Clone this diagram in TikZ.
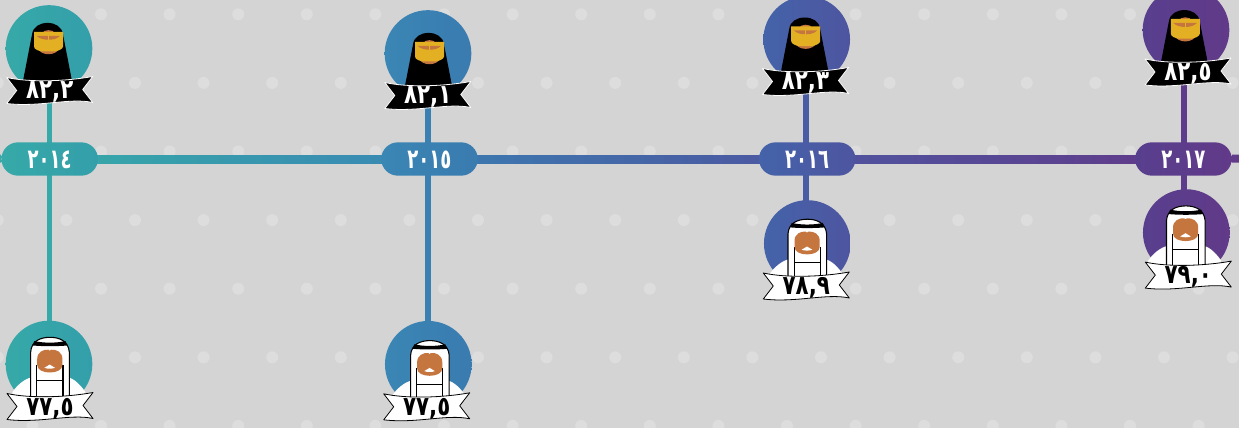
\documentclass[tikz,border=0pt]{standalone}
\usepackage{fontspec}
\newfontfamily\tagfont[Script=Arabic,FakeStretch=0.8]{DejaVu Sans}
\newfontfamily\yearfont[Script=Arabic,FakeStretch=0.66]{DejaVu Sans}
\usetikzlibrary{calc}
\pgfdeclarelayer{bg}
\pgfsetlayers{bg,main}
\definecolor{paper}{HTML}{D4D4D4}
\definecolor{spot}{HTML}{DDDDDD}
\definecolor{tealA}{HTML}{36A9A8}
\definecolor{tealB}{HTML}{349FAA}
\definecolor{blueA}{HTML}{3A86B4}
\definecolor{blueB}{HTML}{3A7BB0}
\definecolor{indA}{HTML}{4463A9}
\definecolor{indB}{HTML}{4E55A0}
\definecolor{purA}{HTML}{583F8E}
\definecolor{purB}{HTML}{613A89}
\definecolor{skin}{HTML}{C5763F}
\definecolor{veil}{HTML}{E3B023}
\tikzset{
  x=0.75pt,y=-0.75pt,
  disc/.style={circle,minimum size=65pt,inner sep=0pt},
  yearpill/.style={rectangle,rounded corners=12.5pt,minimum width=72.4pt,minimum height=25pt,inner sep=0pt,
    text=white,text height=13.5pt,text depth=0pt,font=\yearfont\bfseries\fontsize{20.5}{22}\selectfont},
  tagtext/.style={inner sep=0pt,text height=12.75pt,text depth=0pt,font=\tagfont\bfseries\fontsize{20}{22}\selectfont},
  rail/.style={line width=6pt},
  stem/.style={line width=4.4pt},
  ribbonblack/.style={fill=black,draw=white,line width=0.6pt,line join=round},
  ribbonwhite/.style={fill=white,draw=black,line width=0.6pt,line join=round},
  ribbon/.pic={
    \path[pic actions] (-43,-13) .. controls (-20,-8) and (15,-9) .. (43,-14)
      -- (33,-1) -- (43,12) .. controls (20,7) and (-10,17) .. (-43,13) -- (-33,0) -- cycle;
  }
}
% #1 name, #2 x, #3 y, #4 figure shift, #5 left colour, #6 right colour, #7 text, #8 ribbon dx
\newcommand{\womanfig}[8]{
  \node[disc,left color=#5,right color=#6] (c#1) at (#2,#3) {};
  \begin{scope}[shift={(#2,#3)}]
    \begin{scope}[shift={(#4)}]
      \fill[black] (-24.5,40) -- (-15,-9) .. controls (-14,-17) and (-7,-20.6) .. (0.5,-20.6)
        .. controls (8,-20.6) and (15,-17) .. (16,-9) -- (25.5,40) -- cycle;
      \fill[skin] (-5,-10) .. controls (-4,-14.5) and (7,-14.5) .. (8,-10) -- cycle;
      \fill[skin] (-10,4) .. controls (-6,13) and (9,13) .. (13,4) -- cycle;
      \fill[veil] (-13,-11.7) -- (16,-11.7) -- (16,3) .. controls (16,6) and (10,7.5) .. (8,8)
        -- (-5,8) .. controls (-8,7.5) and (-13,6) .. (-13,3) -- cycle;
      \fill[skin] (-10.5,-7.7) -- (13,-7.7) .. controls (10,-4.5) and (6,-3.8) .. (1.5,-3.8)
        .. controls (-3,-3.8) and (-7,-4.5) .. (-10.5,-7.7) -- cycle;
      \draw[veil,line width=0.5pt] (1.5,-8) -- (1.5,-3.5);
    \end{scope}
    \pic[ribbonblack] at (#8,42) {ribbon};
    \node[tagtext,text=white] (t#1) at (#8,41.5) {#7};
  \end{scope}
}
\newcommand{\manfig}[8]{
  \node[disc,left color=#5,right color=#6] (c#1) at (#2,#3) {};
  \begin{scope}[shift={(#2,#3)}]
    \begin{scope}[shift={(#4)}]
      \fill[white] (-36,36) -- (-36,31) .. controls (-29,21) and (-20,16) .. (-14,16) -- (17,16)
        .. controls (23,16) and (30,21) .. (37,31) -- (37,36) -- cycle;
      \filldraw[fill=white,draw=black,line width=0.8pt] (-17.7,36) -- (-17.7,-9) .. controls (-17,-20) and (-8,-23.7) .. (1.7,-23.7)
        .. controls (11,-23.7) and (20,-20) .. (20.9,-9) -- (20.9,36) -- cycle;
      \fill[black] (-15.5,-15.5) -- (-14,-20) .. controls (-5,-17.8) and (8,-17.8) .. (17,-20) -- (19,-15.5)
        .. controls (8,-14.6) and (-5,-14.6) .. (-15.5,-15.5) -- cycle;
      \draw[black,line width=0.8pt] (-11.6,36) -- (-11.6,4);
      \draw[black,line width=0.8pt] (14.6,36) -- (14.6,4);
      \draw[black,line width=0.6pt] (-11.6,19.7) -- (14.6,19.7);
      \fill[skin] (-11.2,-2) .. controls (-11.2,-9) and (-5,-11.8) .. (0,-11.3) -- (1.3,-10.2) -- (2.6,-11.3)
        .. controls (8,-11.8) and (14,-9) .. (14,-2) -- (14,4)
        .. controls (14,9) and (8,11.5) .. (1.3,11.5) .. controls (-5,11.5) and (-11.2,9) .. (-11.2,4) -- cycle;
      \fill[white] (-4,6.8) .. controls (-2,6.4) and (-1,4.2) .. (1.3,3.6) .. controls (3.6,4.2) and (4.6,6.4) .. (6.6,6.8)
        .. controls (3.6,8) and (-1,8) .. (-4,6.8) -- cycle;
    \end{scope}
    \pic[ribbonwhite] at (#8,42.5) {ribbon};
    \node[tagtext,text=black] (t#1) at (#8,42.6) {#7};
  \end{scope}
}
\begin{document}
\begin{tikzpicture}
\useasboundingbox (0,0) rectangle (1239,428);
% year pills
\node[yearpill,left color=tealA,right color=tealB] (y14) at (49.7,159) {٢٠١٤};
\node[yearpill,left color=blueA,right color=blueB] (y15) at (429.5,159) {٢٠١٥};
\node[yearpill,left color=indA,right color=indB] (y16) at (807.2,159) {٢٠١٦};
\node[yearpill,left color=purA,right color=purB] (y17) at (1183.4,159) {٢٠١٧};
% people
\womanfig{w14}{49}{48.5}{-2,-5}{tealA}{tealB}{٨٢,٢}{0.7}
\womanfig{w15}{428}{53.5}{0,0}{blueA}{blueB}{٨٢,١}{-0.2}
\womanfig{w16}{806.7}{39.5}{-2.5,-1.4}{indA}{indB}{٨٢,٣}{-1.2}
\womanfig{w17}{1186}{30}{-2.2,0.7}{purA}{purB}{٨٢,٥}{2}
\manfig{m14}{49}{364}{-0.6,-3}{tealA}{tealB}{٧٧,٥}{1}
\manfig{m15}{428.3}{364.3}{0,0}{blueA}{blueB}{٧٧,٥}{-1.6}
\manfig{m16}{807.3}{243.5}{-1.6,-0.6}{indA}{indB}{٧٨,٩}{-1}
\manfig{m17}{1186.3}{232.6}{-2.1,-3}{purA}{purB}{٧٩,٠}{2}
% stems' x positions and free ends of the rail
\coordinate (v14) at (49.5,159);
\coordinate (v15) at (427.6,159);
\coordinate (v16) at (806,159);
\coordinate (v17) at (1184,159);
\coordinate (railL) at (0,158.7);
\coordinate (railR) at (1239,158.7);
\begin{pgfonlayer}{bg}
  \fill[paper] (0,0) rectangle (1239,428);
  \begin{scope}
    \clip (0,0) rectangle (1239,428);
    \foreach \k in {0,...,6}{
      \pgfmathsetmacro{\yy}{14.3+68.6*\k}
      \pgfmathsetmacro{\xo}{mod(\k,2)==0 ? 32.4 : -2.2}
      \foreach \n in {0,...,18}{
        \fill[spot] ({\xo+68.6*\n},\yy) circle[radius=6];
      }
    }
  \end{scope}
  % rail connectors, with a colour run laid over each
  \draw[rail,tealA] (railL) -- (y14);
  \draw[rail,blueA] (y14) -- (y15);
  \draw[rail,indA] (y15) -- (y16);
  \draw[rail,purA] (y16) -- (y17);
  \draw[rail,purB] (y17) -- (railR);
  \shade[left color=tealA,right color=blueA] ($(y14.center)+(0,-4)$) rectangle ($(y15.center)+(0,4)$);
  \shade[left color=blueB,right color=indB] ($(y15.center)+(0,-4)$) rectangle ($(y16.center)+(0,4)$);
  \shade[left color=indB,right color=purB] ($(y16.center)+(0,-4)$) rectangle ($(y17.center)+(0,4)$);
  % stems
  \draw[stem,tealA] (v14 |- cw14) -- (v14 |- cm14);
  \draw[stem,blueA!50!blueB] (v15 |- cw15) -- (v15 |- cm15);
  \draw[stem,indA!50!indB] (v16 |- cw16) -- (v16 |- cm16);
  \draw[stem,purA!50!purB] (v17 |- cw17) -- (v17 |- cm17);
\end{pgfonlayer}
\end{tikzpicture}
\end{document}
